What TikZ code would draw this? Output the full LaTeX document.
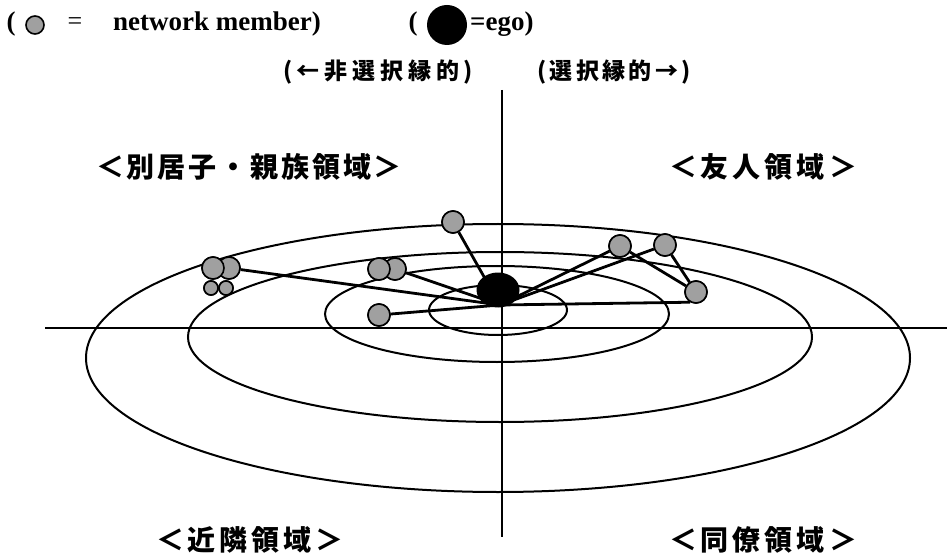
\documentclass[tikz,border=0pt]{standalone}
\usepackage{fontspec}
\usetikzlibrary{shapes.geometric}
\setmainfont{Liberation Serif}
\newfontfamily\cjk{Noto Sans CJK JP}
\definecolor{memgray}{RGB}{160,160,160}
\newcommand{\gp}{\hfill{}}
\begin{document}
\begin{tikzpicture}[x=1pt,y=-1pt,
  member/.style={circle,draw=black,line width=1.6pt,fill=memgray,inner sep=0pt,minimum size=22pt},
  smallmember/.style={member,minimum size=14pt},
  egonode/.style={ellipse,fill=black,inner sep=0pt,minimum width=43pt,minimum height=35pt},
  ring/.style={line width=2pt},
  axis/.style={line width=1.4pt},
  edge/.style={line width=2.8pt},
  lat/.style={inner sep=0pt,font=\fontsize{27}{27}\selectfont\bfseries},
  cjklab/.style={inner sep=0pt,font=\cjk\bfseries\fontsize{28}{28}\selectfont},
  cjksub/.style={inner sep=0pt,font=\cjk\bfseries\fontsize{23}{23}\selectfont}
]
\useasboundingbox (0,0) rectangle (947,553);
% legend
\node[lat] (lp1) at (11,24) {(};
\node[member,minimum size=18pt] (lm) at (35,25) {};
\node[lat,font=\fontsize{26}{26}\selectfont] (leq1) at (75,24) {=};
\node[lat,anchor=west] (ltext) at (113,24) {network member)};
\node[lat] (lp2) at (413,24) {(};
\node[circle,fill=black,inner sep=0pt,minimum size=40pt] (le) at (447,25) {};
\node[lat,anchor=west] (ltext2) at (470,24) {=ego)};
% sub headings
\node[cjksub] (subl) at (378,72) {\makebox[190pt]{(\gp ←\gp 非\gp 選\gp 択\gp 縁\gp 的\gp )}};
\node[cjksub] (subr) at (614,72) {\makebox[154pt]{(\gp 選\gp 択\gp 縁\gp 的\gp →\gp )}};
% region labels
\node[cjklab] (rk) at (249,167) {\makebox[306pt]{＜\gp 別\gp 居\gp 子\gp ・\gp 親\gp 族\gp 領\gp 域\gp ＞}};
\node[cjklab] (rf) at (763,167) {\makebox[188pt]{＜\gp 友\gp 人\gp 領\gp 域\gp ＞}};
\node[cjklab] (rn) at (250,540) {\makebox[188pt]{＜\gp 近\gp 隣\gp 領\gp 域\gp ＞}};
\node[cjklab] (rc) at (763,540) {\makebox[188pt]{＜\gp 同\gp 僚\gp 領\gp 域\gp ＞}};
% rings
\draw[ring] (498,358) ellipse [x radius=412pt, y radius=134pt];
\draw[ring] (500,337) ellipse [x radius=312pt, y radius=85pt];
\draw[ring] (497,314) ellipse [x radius=172pt, y radius=48pt];
\draw[ring] (498,310) ellipse [x radius=69pt, y radius=25pt];
% axes
\coordinate (hl) at (45,328);
\coordinate (hr) at (947,328);
\coordinate (vt) at (502,90);
\coordinate (vb) at (502,537);
\draw[axis] (hl) -- (hr);
\draw[axis] (vt) -- (vb);
% network
\coordinate (hub) at (500,305);
\node[member] (a2) at (229,268) {};
\node[member] (a1) at (213,268) {};
\node[smallmember] (a3) at (211,288) {};
\node[smallmember] (a4) at (226,288) {};
\node[member] (m2) at (395,269) {};
\node[member] (m1) at (379,269) {};
\node[member] (t) at (453,222) {};
\node[member] (lo) at (379,315) {};
\node[member] (r1) at (620,246) {};
\node[member] (r2) at (665,245) {};
\node[member] (r3) at (696,292) {};
\draw[edge] (a2) -- (hub);
\draw[edge] (m2) -- (hub);
\draw[edge] (t) -- (hub);
\draw[edge] (lo) -- (hub);
\draw[edge] (hub) -- (r1);
\draw[edge] (hub) -- (r2);
\draw[edge] (hub) -- (r3.-120);
\draw[edge] (r1) -- (r3);
\draw[edge] (r2) -- (r3);
\node[egonode] (ego) at (498,290) {};
% redraw members on top of edges
\node[member] at (a2) {};
\node[member] at (a1) {};
\node[smallmember] at (a3) {};
\node[smallmember] at (a4) {};
\node[member] at (m2) {};
\node[member] at (m1) {};
\node[member] at (t) {};
\node[member] at (lo) {};
\node[member] at (r1) {};
\node[member] at (r2) {};
\node[member] at (r3) {};
\end{tikzpicture}
\end{document}
